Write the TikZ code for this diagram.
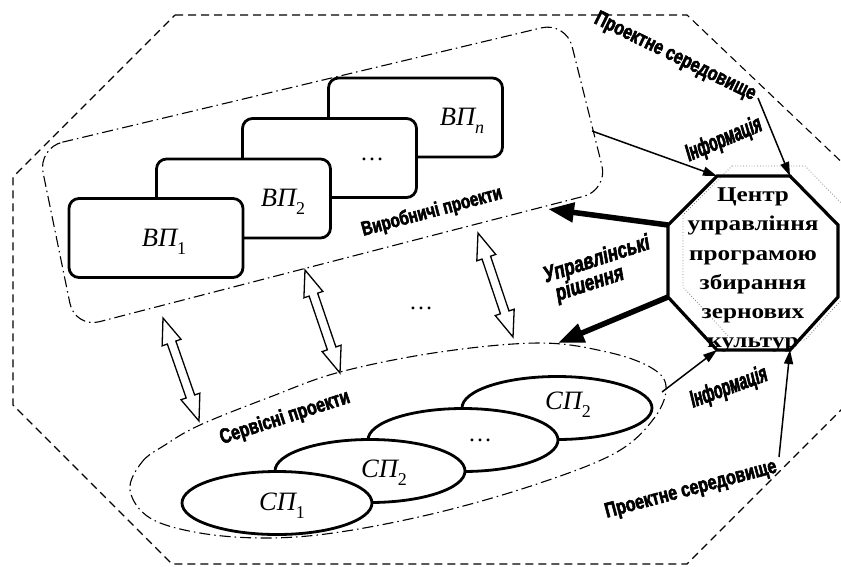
\documentclass[tikz,border=0pt]{standalone}
\usepackage{fontspec}
\setmainfont{Liberation Serif}
\newfontfamily\octfont{Liberation Serif}[FakeStretch=1.2]
\newfontfamily\labfont{Liberation Sans}[UprightFont={* Bold}, ItalicFont={* Bold Italic}, BoldFont={* Bold}, BoldItalicFont={* Bold Italic}, FakeStretch=0.76, FakeBold=2.5]
\newfontfamily\narrowfont{Liberation Sans}[UprightFont={* Bold}, ItalicFont={* Bold Italic}, BoldFont={* Bold}, BoldItalicFont={* Bold Italic}, FakeStretch=0.58, FakeBold=2.5]
\usetikzlibrary{arrows.meta,calc,shapes.geometric}
\newcommand\vpsub[1]{\raisebox{-0.3em}{\upshape\fontsize{18}{18}\selectfont #1}}
\newcommand\dblarr[3]{%
 \coordinate (#3p) at ($(#1)!26pt!(#2)$);
 \coordinate (#3q) at ($(#2)!26pt!(#1)$);
 \draw[hollow] (#1) -- ($(#3p)!10pt!90:(#2)$) -- ($(#3p)!4.5pt!90:(#2)$)
   -- ($(#3q)!4.5pt!-90:(#1)$) -- ($(#3q)!10pt!-90:(#1)$) -- (#2)
   -- ($(#3q)!10pt!90:(#1)$) -- ($(#3q)!4.5pt!90:(#1)$)
   -- ($(#3p)!4.5pt!-90:(#2)$) -- ($(#3p)!10pt!-90:(#2)$) -- cycle;}
\begin{document}
\begin{tikzpicture}[x=1pt,y=-1pt,
  outer/.style={line width=1.1pt, dash pattern=on 8pt off 5pt},
  region/.style={line width=1.1pt, dash pattern=on 11pt off 4pt on 1.5pt off 4pt},
  vpbox/.style={draw, line width=2.8pt, rounded corners=10pt, fill=white,
    minimum width=174pt, minimum height=79pt, inner sep=0pt},
  spell/.style={draw, ellipse, line width=2.8pt, fill=white,
    minimum width=190pt, minimum height=63pt, inner sep=0pt},
  vptext/.style={font=\itshape\fontsize{26.5}{26}\selectfont, inner sep=0pt},
  dots/.style={font=\fontsize{24}{24}\selectfont, inner sep=0pt},
  lab/.style={font=\labfont\fontsize{21}{22}\selectfont, inner sep=0pt},
  labit/.style={font=\labfont\itshape\fontsize{22.5}{24}\selectfont, inner sep=0pt},
  infolab/.style={font=\narrowfont\itshape\fontsize{24}{24}\selectfont, inner sep=0pt},
  hollow/.style={line width=1.3pt, fill=white, line join=miter},
  thin/.style={line width=1.5pt, -{Triangle[length=14pt,width=9pt]}},
  thick/.style={line width=5.5pt, -{Triangle[length=26pt,width=19pt]}},
  octline/.style={line width=3.2pt, line join=miter},
  shadow/.style={line width=0.8pt, gray, dotted}
]
\useasboundingbox (0,0) rectangle (841,566);
\fill[white] (0,0) rectangle (841,566);

% outer project environment
\draw[outer] (175,15) -- (687,15) -- (850,170) -- (850,401) -- (687,564)
  -- (172,564) -- (13,405) -- (13,177) -- cycle;

% production projects region
\draw[region, rounded corners=25pt] (38,148) -- (566,22) -- (608,190) -- (75,328) -- cycle;

% production project boxes
\node[vpbox] (b4) at (415.5,117.5) {};
\node[vpbox] (b3) at (329.5,158) {};
\node[vpbox] (b2) at (243.5,198.5) {};
\node[vpbox] (b1) at (156,238) {};
\node[vptext] (t4) at (462,121) {ВП\vpsub{\textit{n}}};
\node[dots] (t3) at (372,159) {\ldots};
\node[vptext] (t2) at (283,202) {ВП\vpsub{2}};
\node[vptext] (t1) at (164,242) {ВП\vpsub{1}};

% service projects region
\draw[region] plot[smooth cycle, tension=0.6] coordinates {
 (130,490) (142,462) (165,445) (200,425) (270,397) (340,372) (440,352)
 (540,343) (607,352) (650,367) (666,386) (655,417) (617,452) (540,483)
 (440,512) (340,532) (267,538) (200,533) (150,518)};

% service project ellipses
\node[spell] (e4) at (557,408) {};
\node[spell] (e3) at (463,440) {};
\node[spell] (e2) at (370,471) {};
\node[spell] (e1) at (277,503) {};
\node[vptext] (s4) at (568,405) {СП\vpsub{2}};
\node[dots] (s3) at (480,440) {\ldots};
\node[vptext] (s2) at (384,473) {СП\vpsub{2}};
\node[vptext] (s1) at (282,506) {СП\vpsub{1}};

\node[dots] (mid) at (421,308) {\ldots};

% double hollow arrows
\coordinate (d1a) at (163,318); \coordinate (d1b) at (199,421);
\coordinate (d2a) at (305,270); \coordinate (d2b) at (340,373);
\coordinate (d3a) at (478,233); \coordinate (d3b) at (513,337);
\dblarr{d1a}{d1b}{da}
\dblarr{d2a}{d2b}{db}
\dblarr{d3a}{d3b}{dc}

% control centre octagon
\coordinate (o1) at (717,176); \coordinate (o2) at (790,176);
\coordinate (o3) at (838,225); \coordinate (o4) at (838,297);
\coordinate (o5) at (790,350); \coordinate (o6) at (717,350);
\coordinate (o7) at (668,297); \coordinate (o8) at (668,225);
\draw[shadow] (732,166) -- (805,166) -- (853,215) -- (853,287) -- (805,340)
  -- (732,340) -- (683,287) -- (683,215) -- cycle;
\draw[octline] (o1) -- (o2) -- (o3) -- (o4) -- (o5) -- (o6) -- (o7) -- (o8) -- cycle;
\node[font=\octfont\bfseries\fontsize{21}{29.2}\selectfont, align=center, inner sep=0pt]
  (oct) at (753,270) {Центр\\управління\\програмою\\збирання\\зернових\\культур};

% labels
\node[lab, rotate=-26] (pe1) at (675,57) {Проектне середовище};
\node[infolab, rotate=23] (inf1) at (724,140) {Інформація};
\node[lab, font=\labfont\fontsize{20}{22}\selectfont, rotate=15] (vpl) at (432,212) {Виробничі проекти};
\node[labit, rotate=18, align=left] (ur) at (600,270) {Управлінські\\[-3pt]\hspace{6pt}рішення};
\node[lab, rotate=18] (spl) at (285,418) {Сервісні проекти};
\node[infolab, rotate=20] (inf2) at (729,388) {Інформація};
\node[lab, rotate=15] (pe2) at (691,490) {Проектне середовище};

% connectors
\coordinate (i1s) at (592,131);
\coordinate (p1s) at (758,98);
\coordinate (c1e) at (548,209);
\coordinate (c2e) at (558,343);
\coordinate (i2s) at (662,392);
\coordinate (p2s) at (779,457);
\draw[thin] (i1s) -- (o1);
\draw[thin] (p1s) -- (o2);
\draw[thick] (o8) -- (c1e);
\draw[thick] (o7) -- (c2e);
\draw[thin] (i2s) -- (o6);
\draw[thin] (p2s) -- (o5);
\end{tikzpicture}
\end{document}
